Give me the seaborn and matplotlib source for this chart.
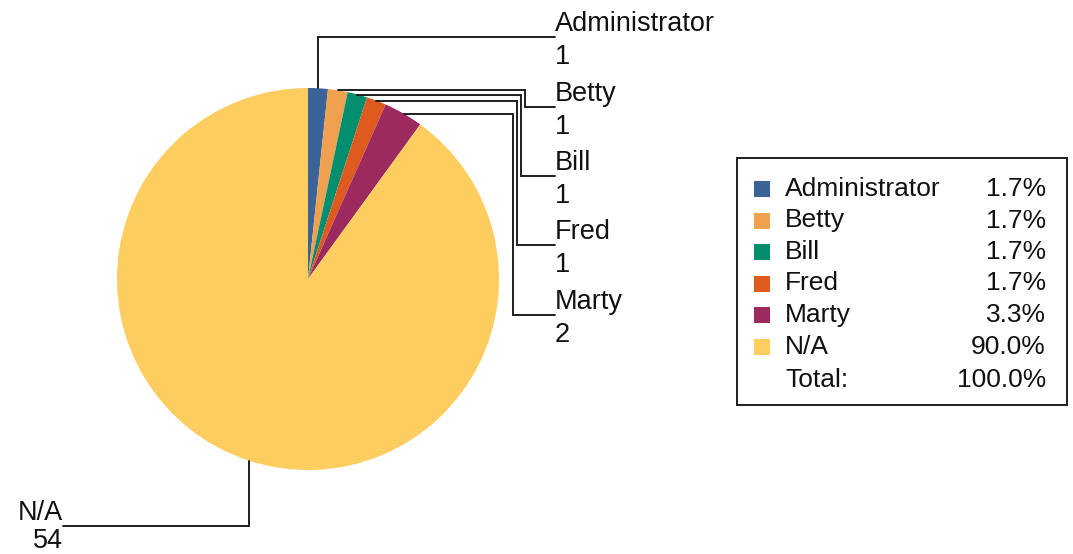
import matplotlib
matplotlib.use('Agg')
import matplotlib.pyplot as plt
from matplotlib.patches import Rectangle
import numpy as np
import seaborn as sns

sns.set_theme(style='white')
plt.rcParams['font.family'] = ['Liberation Sans', 'DejaVu Sans']

# Data
names = ['Administrator', 'Betty', 'Bill', 'Fred', 'Marty', 'N/A']
counts = [1, 1, 1, 1, 2, 54]
colors = ['#3b6397', '#f0a150', '#008e6e', '#de5a1f', '#9d2a5f', '#fecd60']

# Label layout (pixel coordinates, y downward)
elbow_x = [None, 525, 521, 517, 513, None]
label_y = [37, 107, 176, 245, 315, 526]
label_x = [555, 555, 555, 555, 555, 63]
value_dy = [27, 27, 27, 27, 27, 22]

W, H = 1073, 554
fig = plt.figure(figsize=(W / 100, H / 100), dpi=100)
ax = fig.add_axes([0, 0, 1, 1])

cx, cy, r = 308, 279, 191
palette = sns.color_palette(colors)
wedges, _ = ax.pie(counts, colors=palette, startangle=-90, counterclock=True,
                   center=(cx, cy), radius=r, frame=True,
                   wedgeprops=dict(linewidth=0))
ax.set_xlim(0, W)
ax.set_ylim(H, 0)
ax.axis('off')

# Elbow leader lines with labels
line_kw = dict(color='#1e1e1e', lw=1.4, solid_joinstyle='miter')
for i, w in enumerate(wedges):
    mid = np.deg2rad((w.theta1 + w.theta2) / 2)
    px, py = cx + r * np.cos(mid), cy + r * np.sin(mid)
    ex = px if elbow_x[i] is None else elbow_x[i]
    ly, lx = label_y[i], label_x[i]
    ax.plot([px, ex, ex, lx], [py, py, ly, ly], **line_kw)
    ha = 'left' if lx > cx else 'right'
    ax.text(lx, ly - 6, names[i], fontsize=19.5, ha=ha, va='baseline', color='#111111')
    ax.text(lx, ly + value_dy[i], str(counts[i]), fontsize=19.5, ha=ha,
            va='baseline', color='#111111')

# Legend table
total = sum(counts)
ax.add_patch(Rectangle((737, 158), 330, 247, fill=False, ec='#1e1e1e', lw=1.4))
row_y = [189, 220.5, 252, 283.5, 315, 346.5, 380]
for i, name in enumerate(names):
    y = row_y[i]
    ax.add_patch(Rectangle((754, y - 8), 16, 16, color=palette[i], lw=0))
    ax.text(785, y, name, fontsize=19, ha='left', va='center', color='#111111')
    ax.text(1046, y, f'{counts[i] / total * 100:.1f}%', fontsize=19,
            ha='right', va='center', color='#111111')
ax.text(785, row_y[-1], 'Total:', fontsize=19, ha='left', va='center', color='#111111')
ax.text(1046, row_y[-1], f'{total / total * 100:.1f}%', fontsize=19,
        ha='right', va='center', color='#111111')

fig.savefig('out.png', dpi=100)
